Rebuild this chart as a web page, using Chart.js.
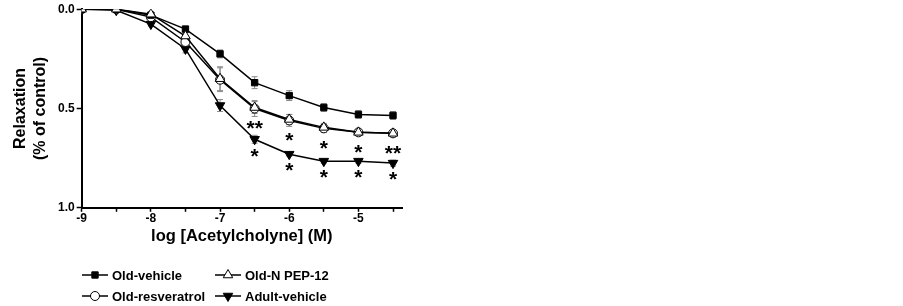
<!DOCTYPE html>
<html>
<head>
<meta charset="utf-8">
<script src="https://cdn.jsdelivr.net/npm/chart.js@4.4.0/dist/chart.umd.min.js"></script>
<style>
  html, body { margin: 0; padding: 0; background: #fff; }
  #wrap { width: 903px; height: 306px; }
</style>
</head>
<body>
<div id="wrap"><canvas id="chart" width="903" height="306"></canvas></div>
<script>
const doses = [-9, -8.5, -8, -7.5, -7, -6.5, -6, -5.5, -5, -4.5];

const oldVehicle     = [0.00, 0.00, 0.03, 0.10, 0.225, 0.37, 0.435, 0.495, 0.53, 0.535];
const oldResveratrol = [0.00, 0.00, 0.04, 0.165, 0.355, 0.50, 0.56, 0.60, 0.62, 0.625];
const oldNPep12      = [0.00, 0.00, 0.025, 0.135, 0.35, 0.495, 0.555, 0.595, 0.62, 0.625];
const adultVehicle   = [0.00, 0.005, 0.075, 0.20, 0.485, 0.655, 0.73, 0.765, 0.765, 0.775];

const errOldVehicle     = [0, 0, 0.01, 0.015, 0.02, 0.03, 0.025, 0.02, 0.02, 0.02];
const errOldResveratrol = [0, 0, 0.01, 0.03, 0.06, 0.04, 0.03, 0.02, 0.015, 0.015];
const errOldNPep12      = [0, 0, 0.01, 0.02, 0.06, 0.03, 0.025, 0.02, 0.015, 0.015];
const errAdultVehicle   = [0, 0, 0.01, 0.02, 0.03, 0.02, 0.01, 0.01, 0.01, 0.015];

const starsOld   = ['', '', '', '', '', '**', '*', '*', '*', '**'];
const starsAdult = ['', '', '', '', '', '*', '*', '*', '*', '*'];

const xTicks = [-9, -8, -7, -6, -5];
const yTicks = [0.0, 0.5, 1.0];

const FONT = 'Liberation Sans, Arial, sans-serif';

function pts(vals) {
  return doses.map((d, i) => ({ x: d, y: vals[i] }));
}

// order: lower is drawn on top
const series = [
  { label: 'Old-vehicle', vals: oldVehicle, err: errOldVehicle, style: 'rect', fill: '#000', rot: 0, r: 4.5, order: 1 },
  { label: 'Old-resveratrol', vals: oldResveratrol, err: errOldResveratrol, style: 'circle', fill: '#fff', rot: 0, r: 4.5, order: 2 },
  { label: 'Old-N PEP-12', vals: oldNPep12, err: errOldNPep12, style: 'triangle', fill: '#fff', rot: 0, r: 5.5, order: 0 },
  { label: 'Adult-vehicle', vals: adultVehicle, err: errAdultVehicle, style: 'triangle', fill: '#000', rot: 180, r: 5.5, order: 3 }
];

const errorBars = {
  id: 'errorBars',
  beforeDatasetsDraw(chart) {
    const { ctx, scales: { x, y } } = chart;
    ctx.save();
    ctx.strokeStyle = '#888';
    ctx.lineWidth = 1;
    series.forEach(s => {
      s.vals.forEach((v, i) => {
        const e = s.err[i];
        if (!e) return;
        const px = x.getPixelForValue(doses[i]);
        const y1 = y.getPixelForValue(v - e);
        const y2 = y.getPixelForValue(v + e);
        ctx.beginPath();
        ctx.moveTo(px, y1); ctx.lineTo(px, y2);
        ctx.moveTo(px - 3, y1); ctx.lineTo(px + 3, y1);
        ctx.moveTo(px - 3, y2); ctx.lineTo(px + 3, y2);
        ctx.stroke();
      });
    });
    ctx.restore();
  }
};

const extras = {
  id: 'extras',
  afterDraw(chart) {
    const { ctx, scales: { x, y } } = chart;
    ctx.save();
    // significance stars
    ctx.fillStyle = '#000';
    ctx.font = 'bold 21px ' + FONT;
    ctx.textAlign = 'center';
    ctx.textBaseline = 'top';
    starsOld.forEach((s, i) => {
      if (!s) return;
      ctx.fillText(s, x.getPixelForValue(doses[i]), y.getPixelForValue(oldResveratrol[i]) + 10);
    });
    starsAdult.forEach((s, i) => {
      if (!s) return;
      ctx.fillText(s, x.getPixelForValue(doses[i]), y.getPixelForValue(adultVehicle[i]) + 7);
    });

    // legend
    const spots = [[82, 275], [82, 296], [215, 275], [215, 296]];
    ctx.font = 'bold 13px ' + FONT;
    ctx.textAlign = 'left';
    ctx.textBaseline = 'middle';
    series.forEach((s, k) => {
      const [lx, ly] = spots[k];
      ctx.strokeStyle = '#000';
      ctx.lineWidth = 1.5;
      ctx.beginPath();
      ctx.moveTo(lx, ly); ctx.lineTo(lx + 26, ly);
      ctx.stroke();
      ctx.fillStyle = s.fill;
      ctx.lineWidth = 1;
      Chart.helpers.drawPoint(ctx, { pointStyle: s.style, radius: s.r, rotation: s.rot, borderWidth: 1 }, lx + 13, ly);
      ctx.fillStyle = '#000';
      ctx.fillText(s.label, lx + 30, ly + 1);
    });
    ctx.restore();
  }
};

new Chart(document.getElementById('chart'), {
  type: 'line',
  data: {
    datasets: series.map(s => ({
      label: s.label,
      data: pts(s.vals),
      order: s.order,
      borderColor: '#000',
      borderWidth: 1.5,
      backgroundColor: s.fill,
      pointBackgroundColor: s.fill,
      pointBorderColor: '#000',
      pointBorderWidth: 1,
      pointStyle: s.style,
      pointRotation: s.rot,
      pointRadius: s.r,
      tension: 0,
      fill: false
    }))
  },
  plugins: [errorBars, extras],
  options: {
    responsive: false,
    animation: false,
    layout: { padding: { left: 7, right: 501, top: 8, bottom: 56 } },
    plugins: { legend: { display: false }, tooltip: { enabled: false } },
    scales: {
      x: {
        type: 'linear',
        min: -9,
        max: -4.37,
        afterBuildTicks(axis) {
          const t = [];
          for (let v = -9; v <= -4.5; v += 0.5) t.push({ value: v });
          axis.ticks = t;
        },
        grid: {
          drawOnChartArea: false,
          color: '#000',
          tickLength: 4,
          tickWidth: 1.5
        },
        border: { color: '#000', width: 2 },
        ticks: {
          autoSkip: false,
          maxRotation: 0,
          color: '#000',
          padding: 0,
          font: { family: FONT, size: 12, weight: 'bold' },
          callback: v => xTicks.includes(v) ? String(v) : ''
        },
        title: {
          display: true,
          text: 'log [Acetylcholyne] (M)',
          color: '#000',
          padding: { top: 0 },
          font: { family: FONT, size: 16.5, weight: 'bold' }
        }
      },
      y: {
        type: 'linear',
        reverse: true,
        min: 0,
        max: 1,
        afterBuildTicks(axis) {
          axis.ticks = yTicks.map(v => ({ value: v }));
        },
        grid: {
          drawOnChartArea: false,
          color: '#000',
          tickLength: 5,
          tickWidth: 1.5
        },
        border: { color: '#000', width: 2 },
        ticks: {
          color: '#000',
          padding: 2,
          font: { family: FONT, size: 12, weight: 'bold' },
          callback: v => v.toFixed(1)
        },
        title: {
          display: true,
          text: ['Relaxation', '(% of control)'],
          color: '#000',
          padding: { bottom: 5 },
          font: { family: FONT, size: 16, weight: 'bold', lineHeight: 1.25 }
        }
      }
    }
  }
});
</script>
</body>
</html>
